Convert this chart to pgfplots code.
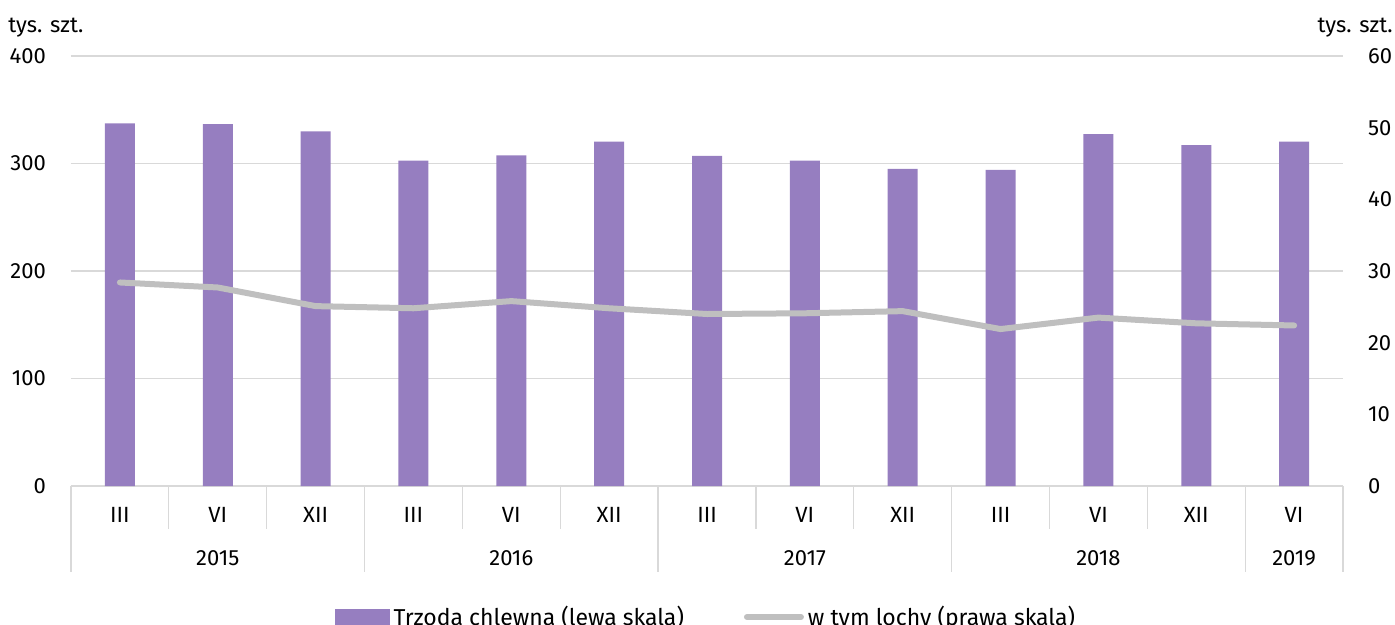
\documentclass[border=0pt]{standalone}
\usepackage{pgfplots}
\pgfplotsset{compat=1.18}
\usepackage{fontspec}
\setmainfont{Fira Sans}
\definecolor{barcol}{RGB}{150,126,192}
\definecolor{linecol}{RGB}{191,191,191}
\definecolor{gridcol}{RGB}{217,217,217}
\begin{document}
\begin{tikzpicture}
\path[use as bounding box] (0,0) rectangle (697.5pt,-312.5pt);
\pgfplotsset{
  every axis/.append style={
    width=636pt, height=215pt, scale only axis,
    at={(35.5pt,-243pt)}, anchor=south west,
    xmin=-0.5, xmax=12.5, ymin=0,
    font=\fontsize{11}{13}\selectfont,
    /pgf/number format/assume math mode=true,
    major tick length=0pt,
  }
}
\begin{axis}[
    ymax=400, ytick={0,100,200,300,400},
    axis y line*=left, axis x line*=bottom,
    y axis line style={draw=none},
    x axis line style={draw=gridcol, line width=1pt},
    ymajorgrids, grid style={gridcol, line width=0.8pt},
    yticklabel style={anchor=east, xshift=-9pt},
    xtick={0,...,12},
    xticklabels={III,VI,XII,III,VI,XII,III,VI,XII,III,VI,XII,VI},
    xticklabel style={anchor=center, yshift=-14.5pt},
    clip=false,
]
\addplot[ybar, bar width=15pt, fill=barcol, draw=none] coordinates {
(0,337.4) (1,336.7) (2,330.0) (3,302.6) (4,307.6) (5,320.3) (6,307.0)
(7,302.6) (8,294.9) (9,294.0) (10,327.4) (11,317.2) (12,320.3)};
% category separators
\pgfplotsinvokeforeach{0.5,1.5,3.5,4.5,6.5,7.5,9.5,10.5}{
  \draw[gridcol, line width=0.6pt] (axis cs:#1,0) -- ([yshift=-21.5pt]axis cs:#1,0);}
\pgfplotsinvokeforeach{-0.5,2.5,5.5,8.5,11.5,12.5}{
  \draw[gridcol, line width=0.6pt] (axis cs:#1,0) -- ([yshift=-43pt]axis cs:#1,0);}
\node at ([yshift=-36pt]axis cs:1,0) {2015};
\node at ([yshift=-36pt]axis cs:4,0) {2016};
\node at ([yshift=-36pt]axis cs:7,0) {2017};
\node at ([yshift=-36pt]axis cs:10,0) {2018};
\node at ([yshift=-36pt]axis cs:12,0) {2019};
\node[anchor=south west, inner sep=0pt] at ([xshift=-31.5pt,yshift=9pt]rel axis cs:0,1) {tys. szt.};
\node[anchor=south east, inner sep=0pt] at ([xshift=25pt,yshift=9pt]rel axis cs:1,1) {tys. szt.};
\end{axis}
\begin{axis}[
    ymax=60, ytick={0,10,...,60},
    axis y line*=right, axis x line=none,
    y axis line style={draw=none},
    yticklabel style={anchor=west, xshift=9pt},
    legend style={at={([yshift=-65.5pt]rel axis cs:0.5,0)}, anchor=center,
      draw=none, fill=none, legend columns=2,
      /tikz/every even column/.append style={column sep=28pt},
      font=\fontsize{11.5}{13}\selectfont},
    legend cell align=left,
]
\addlegendimage{legend image code/.code={\fill[barcol] (0pt,-3.8pt) rectangle (27pt,3.8pt);}}
\addlegendentry{Trzoda chlewna (lewa skala)}
\addplot[linecol, line width=3pt, line join=round, line cap=round,
  legend image code/.code={\draw[linecol, line width=3pt] (0pt,0pt) -- (27pt,0pt);}]
  coordinates {
(0,28.4) (1,27.7) (2,25.1) (3,24.8) (4,25.8) (5,24.8) (6,24.0)
(7,24.1) (8,24.4) (9,21.9) (10,23.5) (11,22.7) (12,22.4)};
\addlegendentry{w tym lochy (prawa skala)}
\end{axis}
\end{tikzpicture}
\end{document}
